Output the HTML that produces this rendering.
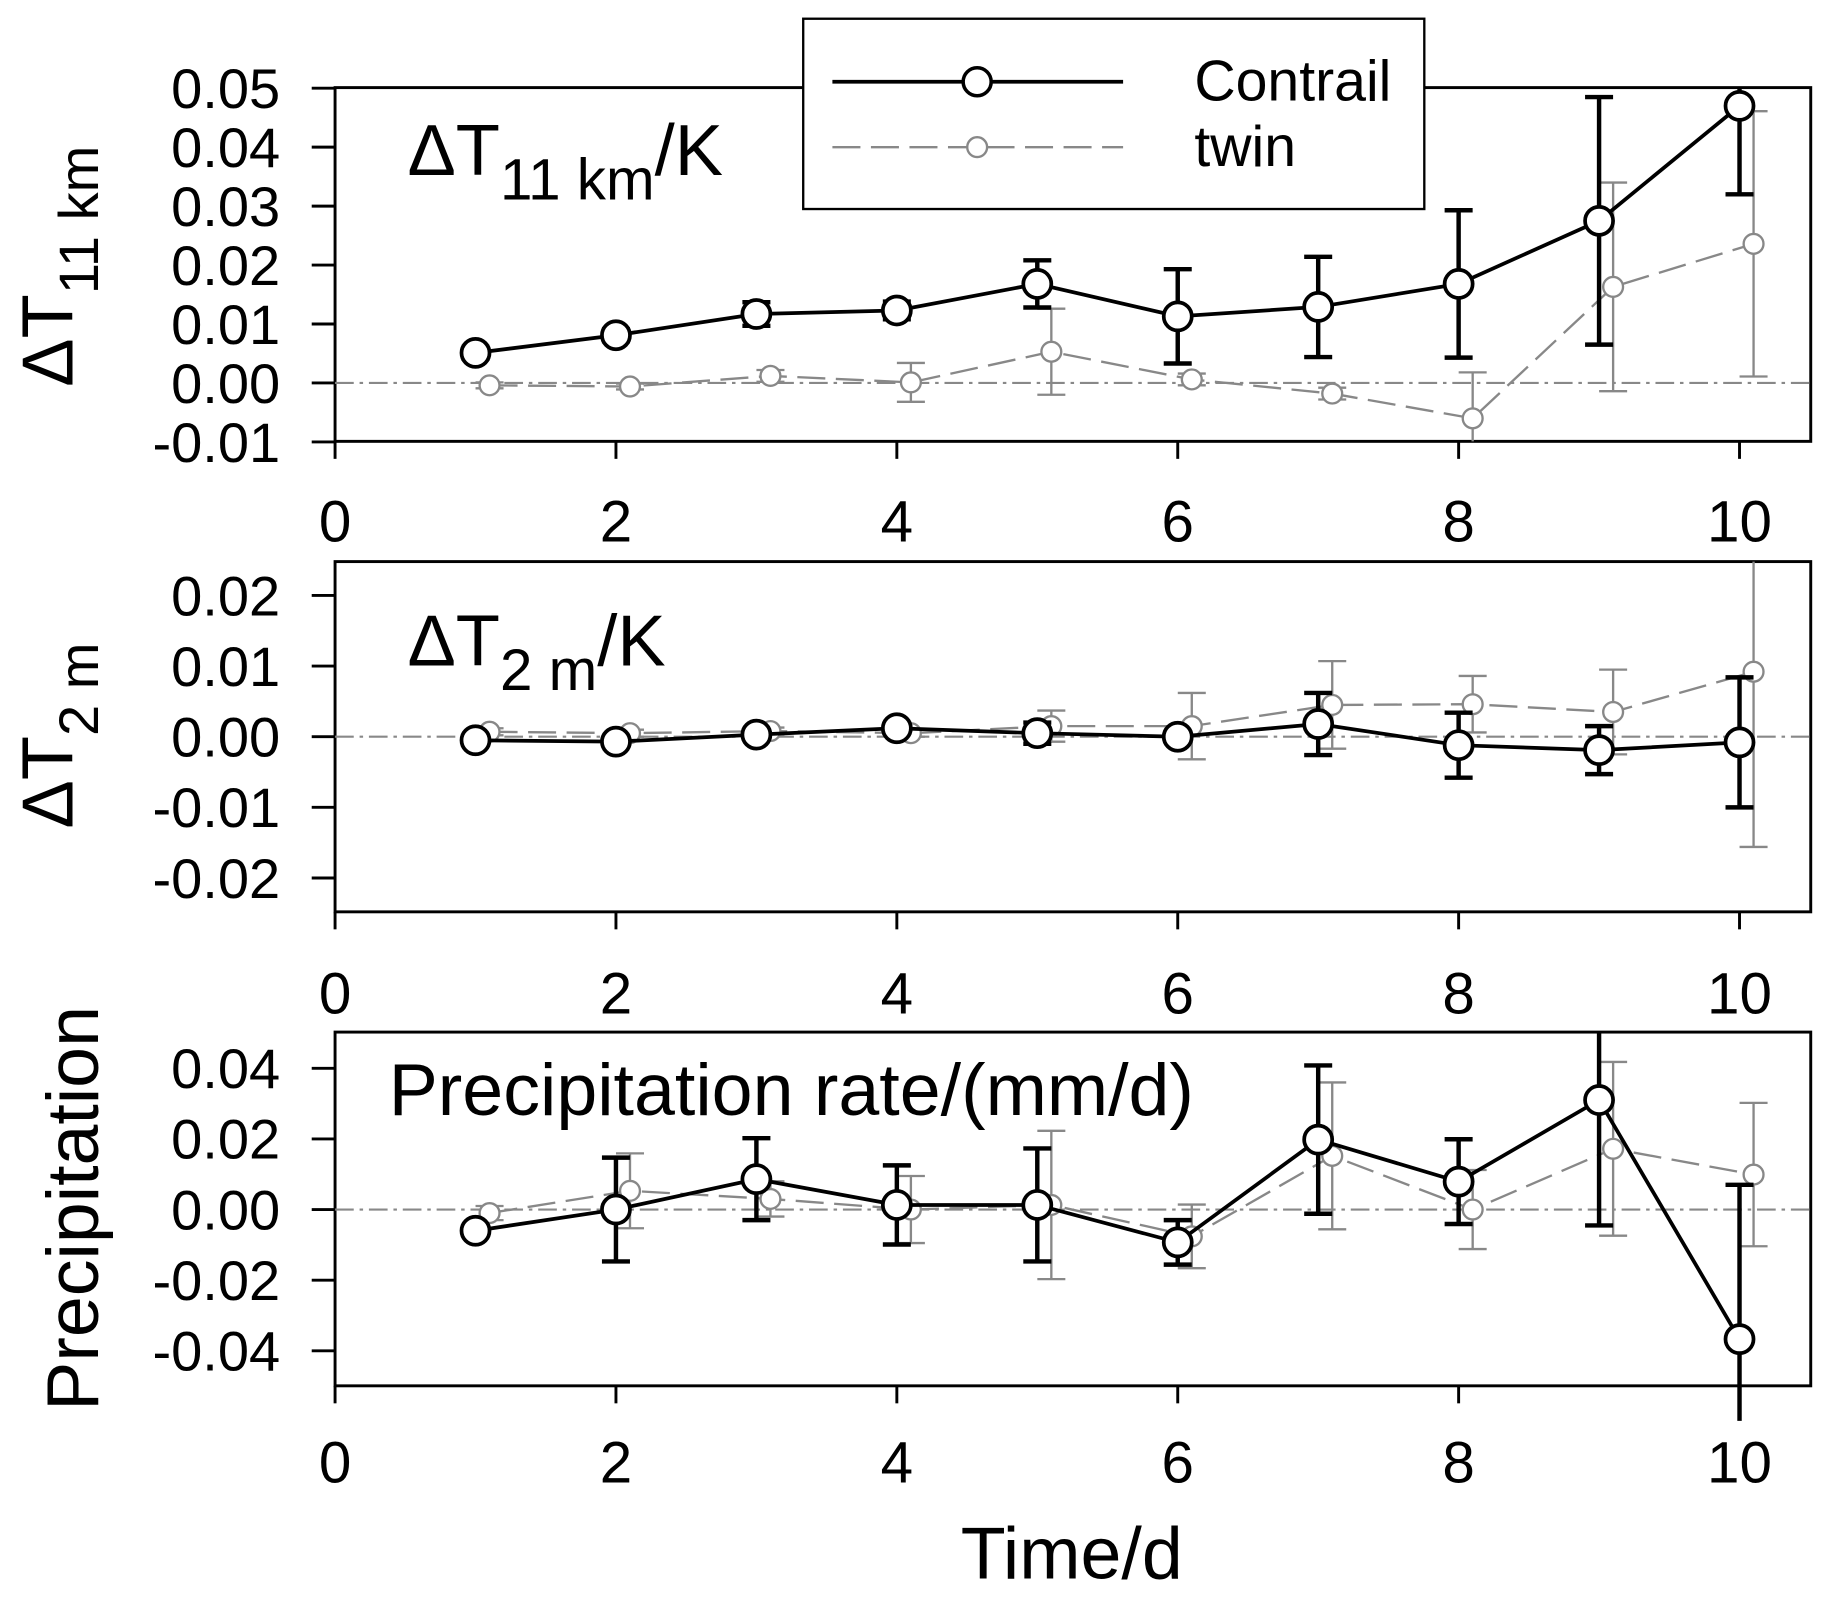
<!DOCTYPE html>
<html><head><meta charset="utf-8"><style>html,body{margin:0;padding:0;background:#fff}svg{display:block}</style></head>
<body>
<svg id="chart" width="1830" height="1598" viewBox="0 0 1567.5 1368.7" xmlns="http://www.w3.org/2000/svg" font-family="Liberation Sans, Arial, sans-serif"></svg>
<script>
const xTicks=[0,2,4,6,8,10];
const days=[1,2,3,4,5,6,7,8,9,10];
const p1Contrail=[0.0051,0.0081,0.0117,0.0123,0.0168,0.0113,0.0129,0.0168,0.0275,0.047];
const p1ContrailErr=[0.001,0.001,0.002,0.0015,0.004,0.008,0.0085,0.0125,0.021,0.015];
const p1Twin=[-0.0004,-0.0006,0.0012,0.0001,0.0053,0.0006,-0.0018,-0.006,0.0163,0.0236];
const p1TwinErr=[0.0005,0.0005,0.001,0.0033,0.0073,0.001,0.001,0.0078,0.0177,0.0225];
const p2Contrail=[-0.0005,-0.0007,0.0003,0.0012,0.0005,0.0,0.0018,-0.0012,-0.0019,-0.0008];
const p2ContrailErr=[0.0005,0.0005,0.0005,0.0005,0.0015,0.0005,0.0044,0.0046,0.0034,0.0092];
const p2Twin=[0.0007,0.0005,0.0008,0.0005,0.0015,0.0015,0.0045,0.0046,0.0035,0.0092];
const p2TwinErr=[0.0005,0.0005,0.0005,0.0005,0.0022,0.0047,0.0062,0.004,0.006,0.0248];
const p3Contrail=[-0.006,0.0,0.0086,0.0013,0.0013,-0.0093,0.0198,0.0079,0.031,-0.0367];
const p3ContrailErr=[0.001,0.0147,0.0116,0.0112,0.016,0.0063,0.021,0.012,0.0355,0.0437];
const p3Twin=[-0.001,0.0053,0.003,0.0,0.0013,-0.0076,0.0152,0.0,0.0172,0.0099];
const p3TwinErr=[0.002,0.0106,0.005,0.0095,0.021,0.009,0.0208,0.0112,0.0246,0.0203];
const p1Ticks=[0.05,0.04,0.03,0.02,0.01,0.00,-0.01];
const p2Ticks=[0.02,0.01,0.00,-0.01,-0.02];
const p3Ticks=[0.04,0.02,0.00,-0.02,-0.04];

const NS="http://www.w3.org/2000/svg";
const svg=document.getElementById('chart');
function mk(tag,attrs,parent){const e=document.createElementNS(NS,tag);for(const k in attrs)e.setAttribute(k,attrs[k]);(parent||svg).appendChild(e);return e;}
const X0=287,X1=1551;
const xs=v=>287+v*120.3;

const panels=[
 {top:75,bot:378,y0:328,k:5050,ticks:p1Ticks,c:p1Contrail,ce:p1ContrailErr,t:p1Twin,te:p1TwinErr,xl:464,name:'t11km'},
 {top:481,bot:781,y0:631,k:6050,ticks:p2Ticks,c:p2Contrail,ce:p2ContrailErr,t:p2Twin,te:p2TwinErr,xl:868,name:'t2m'},
 {top:884,bot:1187,y0:1036,k:3025,ticks:p3Ticks,c:p3Contrail,ce:p3ContrailErr,t:p3Twin,te:p3TwinErr,xl:1270,name:'precip'}
];

panels.forEach((p,pi)=>{
  const g=mk('g',{});
  
  
  const ys=v=>p.y0-v*p.k;
  const cp=mk('clipPath',{id:'clip'+pi},g);
  mk('rect',{x:X0,y:p.top,width:X1-X0,height:p.bot-p.top+(pi==2?30:0)},cp);
  const fr=mk('rect',{x:X0,y:p.top,width:X1-X0,height:p.bot-p.top,fill:'none',stroke:'#000','stroke-width':2.5},g);
  
  
  p.ticks.forEach(v=>{
    mk('line',{x1:X0-20,x2:X0,y1:ys(v),y2:ys(v),stroke:'#000','stroke-width':2.5},g);
    const t=mk('text',{x:240,y:ys(v)+17,'text-anchor':'end','font-size':48},g);
    t.textContent=v.toFixed(2);
    
    
  });
  xTicks.forEach(v=>{
    mk('line',{x1:xs(v),x2:xs(v),y1:p.bot,y2:p.bot+15,stroke:'#000','stroke-width':2.5},g);
    const t=mk('text',{x:xs(v),y:p.xl,'text-anchor':'middle','font-size':50},g);
    t.textContent=v;
    
    
  });
  const zl=mk('line',{x1:X0,x2:X1,y1:ys(0),y2:ys(0),stroke:'#888','stroke-width':1.8,'stroke-dasharray':'16 5 3 5'},g);
  
  
  const cg=mk('g',{'clip-path':'url(#clip'+pi+')'},g);
  const draw=(vals,errs,off,color,lw,ew,r,dash,nm)=>{
    const pts=days.map((d,i)=>[xs(d+off),ys(vals[i])]);
    const ln=mk('polyline',{points:pts.map(q=>q.join(',')).join(' '),fill:'none',stroke:color,'stroke-width':lw,'stroke-dasharray':dash},cg);
    
    
    days.forEach((d,i)=>{
      const x=xs(d+off),yu=ys(vals[i]+errs[i]),yl=ys(vals[i]-errs[i]);
      const eb=mk('path',{d:`M${x},${yu}V${yl}M${x-12},${yu}H${x+12}M${x-12},${yl}H${x+12}`,stroke:color,'stroke-width':ew,fill:'none'},cg);
      
      
    });
    pts.forEach(q=>{
      const c=mk('circle',{cx:q[0],cy:q[1],r:r,fill:'#fff',stroke:color,'stroke-width':lw},cg);
      
      
    });
  };
  draw(p.t,p.te,0.1,'#888',2,2,8.5,'24 9','twin');
  draw(p.c,p.ce,0,'#000',3.2,3.8,12,'none','contrail');
});

function txt(html,attrs,name){const t=mk('text',attrs);t.innerHTML=html;return t;}
txt('ΔT<tspan font-size="50" dy="21">11 km</tspan><tspan dy="-21">/K</tspan>',{x:349,y:150,'font-size':62},'panel1-title');
txt('ΔT<tspan font-size="50" dy="21">2 m</tspan><tspan dy="-21">/K</tspan>',{x:349,y:570,'font-size':62},'panel2-title');
txt('Precipitation rate/(mm/d)',{x:333,y:955,'font-size':63},'panel3-title');
txt('ΔT<tspan font-size="48" dy="22">11 km</tspan>',{x:0,y:0,'font-size':62,'text-anchor':'middle',transform:'translate(62,228) rotate(-90)'},'y-axis-title-1');
txt('ΔT<tspan font-size="48" dy="22">2 m</tspan>',{x:0,y:0,'font-size':62,'text-anchor':'middle',transform:'translate(62,630) rotate(-90)'},'y-axis-title-2');
txt('Precipitation',{x:0,y:0,'font-size':63,'text-anchor':'middle',transform:'translate(84,1035) rotate(-90)'},'y-axis-title-3');
txt('Time/d',{x:918,y:1352,'font-size':63,'text-anchor':'middle'},'x-axis-title');

const lg=mk('g',{});


mk('rect',{x:688,y:16,width:532,height:163,fill:'#fff',stroke:'#000','stroke-width':2},lg);
mk('line',{x1:713,x2:962,y1:70,y2:70,stroke:'#000','stroke-width':3.2},lg);
mk('circle',{cx:837,cy:70,r:12,fill:'#fff',stroke:'#000','stroke-width':3},lg);
mk('line',{x1:713,x2:962,y1:126,y2:126,stroke:'#888','stroke-width':2,'stroke-dasharray':'24 9'},lg);
mk('circle',{cx:837,cy:126,r:8.5,fill:'#fff',stroke:'#888','stroke-width':2},lg);
const l1=mk('text',{x:1023,y:86,'font-size':49},lg);l1.textContent='Contrail';


const l2=mk('text',{x:1023,y:142,'font-size':49},lg);l2.textContent='twin';


</script>
</body></html>
